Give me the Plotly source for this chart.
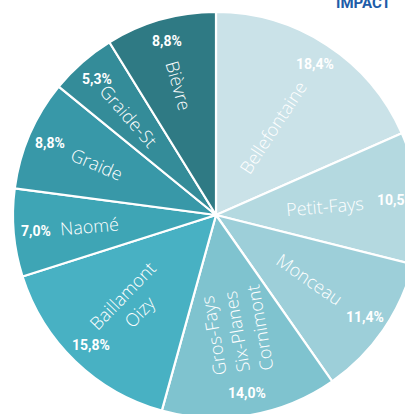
import math
import plotly.graph_objects as go

# ---- data ----
villages = ["Bellefontaine", "Petit-Fays", "Monceau", "Gros-Fays<br>Six-Planes<br>Cornimont",
            "Baillamont<br>Oizy", "Naomé", "Graide", "Graide-St", "Bièvre"]
shares = [18.4, 10.5, 11.4, 14.0, 15.8, 7.0, 8.8, 5.3, 8.8]
colors = ["#cae2e8", "#b4d9e0", "#9dcfd9", "#7fc3cf", "#48b1c3",
          "#3ea5b5", "#3898a8", "#348c99", "#2f7a84"]

# ---- layout constants ----
W, H = 440, 440
CX, CY, R = 216, 215, 203   # pie centre / radius in figure pixels (from top-left)

fig = go.Figure(go.Pie(
    labels=[v.replace("<br>", " ") for v in villages],
    values=shares,
    sort=False,
    direction="clockwise",
    rotation=0,
    textinfo="none",
    hoverinfo="label+percent",
    marker=dict(colors=colors, line=dict(color="white", width=2.2)),
    domain=dict(x=[(CX - R) / W, (CX + R) / W], y=[1 - (CY + R) / H, 1 - (CY - R) / H]),
    showlegend=False,
))

def to_paper(theta_deg, r):
    t = math.radians(theta_deg)
    px = CX + r * math.sin(t)
    py = CY - r * math.cos(t)
    return px / W, 1 - py / H

annotations = []
total = sum(shares)
cum = 0.0
for name, v in zip(villages, shares):
    mid = (cum + v / 2) / total * 360
    cum += v
    ang = mid - 90 if mid < 160 else mid - 270
    # names drift slightly outward going round the pie
    x, y = to_paper(mid, (0.50 + 0.17 * mid / 360) * R)
    annotations.append(dict(x=x, y=y, xref="paper", yref="paper", text=name, showarrow=False,
                            textangle=ang, xanchor="center", yanchor="middle",
                            font=dict(family="Open Sans", size=18, color="white", weight=300)))
    x2, y2 = to_paper(mid, 0.89 * R)
    pct = f"{v:.1f}".replace(".", ",") + "%"
    annotations.append(dict(x=x2, y=y2, xref="paper", yref="paper", text=f"<b>{pct}</b>",
                            showarrow=False, xanchor="center", yanchor="middle",
                            font=dict(family="Roboto", size=14, color="white")))

annotations.append(dict(x=363 / W, y=1 - 3 / H, xref="paper", yref="paper", text="<b>IMPACT</b>",
                        showarrow=False, xanchor="center", yanchor="middle",
                        font=dict(family="Roboto", size=15, color="#1e5ca8")))

fig.update_layout(
    width=W, height=H,
    margin=dict(l=0, r=0, t=0, b=0),
    paper_bgcolor="white",
    plot_bgcolor="white",
    annotations=annotations,
)

# the chart is deliberately cropped by the window: no page margin, no scrollbars
fig.write_html(
    "out.html",
    config={"displayModeBar": False},
    post_script="document.body.style.margin='0';"
                "document.documentElement.style.overflow='hidden';",
)
